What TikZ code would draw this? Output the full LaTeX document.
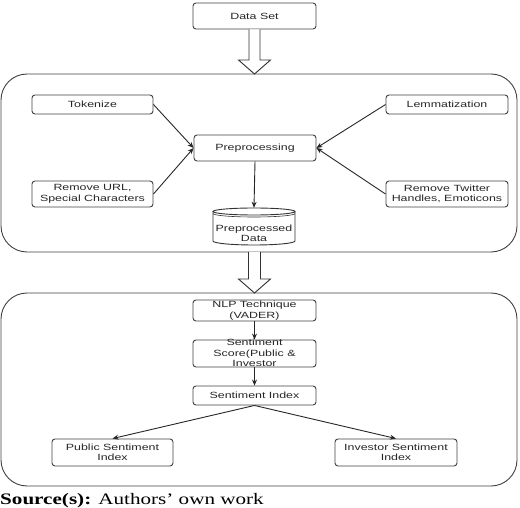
\documentclass[tikz,border=0pt]{standalone}
\usepackage{fontspec}
\setmainfont{Liberation Sans}
\newfontfamily\labfont[FakeStretch=1.38]{Liberation Sans}
\newfontfamily\srcfont[FakeStretch=1.32]{Liberation Serif}
\usetikzlibrary{arrows.meta,calc}
\colorlet{linec}{black!75}
\begin{document}
\begin{tikzpicture}[x=1pt,y=-1pt,
  box/.style={draw=linec, line width=0.9pt, rounded corners=3pt, inner sep=0pt, align=center,
    font=\labfont\fontsize{9}{10.5}\selectfont, text=black!85},
  lab/.style={inner sep=0pt, align=center, font=\labfont\fontsize{9}{10.5}\selectfont, text=black!85},
  frame/.style={draw=linec, line width=0.9pt, rounded corners=26pt},
  arr/.style={draw=black!85, line width=0.9pt, -{Stealth[length=6pt,width=5pt]}},
  hollow/.style={draw=black!80, line width=0.9pt, fill=white},
  cyl/.style={draw=black!80, line width=0.9pt},
]
\useasboundingbox (0,0) rectangle (520,508);

% frames
\draw[frame] (1,74) rectangle (517,252);
\draw[frame] (1,293) rectangle (517,486);

% top node
\node[box, minimum width=123pt, minimum height=26pt] (ds) at (254.5,16) {Data Set};

% first block
\node[box, minimum width=121pt, minimum height=19pt] (tok) at (92.5,104.5) {Tokenize};
\node[box, minimum width=121pt, minimum height=26pt] (url) at (92.5,194) {Remove URL,\\Special Characters};
\node[box, minimum width=122pt, minimum height=26pt] (pp) at (255,148) {Preprocessing};
\node[box, minimum width=122pt, minimum height=19pt] (lem) at (447,104.5) {Lemmatization};
\node[box, minimum width=122pt, minimum height=26pt] (tw) at (447,194) {Remove Twitter\\Handles, Emoticons};

% cylinder
\node[minimum width=82pt, minimum height=37pt, inner sep=0pt] (pd) at (254,226.5) {};
\filldraw[cyl, fill=white] (213,211.5) -- (213,241) arc[start angle=180,end angle=0,x radius=41,y radius=4] -- (295,211.5);
\draw[cyl] (254,211.5) ellipse[x radius=41,y radius=3.5];
\draw[cyl, line width=0.6pt] (213,213.5) arc[start angle=180,end angle=0,x radius=41,y radius=3.5];
\node[lab] (pdt) at (254,233.5) {Preprocessed\\Data};

% second block
\node[box, minimum width=123pt, minimum height=21pt] (nlp) at (254.5,310.5) {NLP Technique\\(VADER)};
\node[box, minimum width=123pt, minimum height=27pt] (ss) at (254.5,353.5) {};
\node[lab] (sst) at (254.5,353) {Sentiment\\Score(Public \&\\Investor};
\node[box, minimum width=123pt, minimum height=19pt] (si) at (254.5,395.5) {Sentiment Index};
\node[box, minimum width=121pt, minimum height=27pt] (pub) at (112.5,452.5) {Public Sentiment\\Index};
\node[box, minimum width=122pt, minimum height=27pt] (inv) at (396,452.5) {Investor Sentiment\\Index};

% hollow arrows
\coordinate (f1t) at (254.5,74);
\draw[hollow] ($(ds.south)+(-5.5,0)$) -- ($(f1t)+(-5.5,-14)$) -- ($(f1t)+(-16,-14)$) -- (f1t)
  -- ($(f1t)+(16,-14)$) -- ($(f1t)+(5.5,-14)$) -- ($(ds.south)+(5.5,0)$);
\coordinate (f1b) at (254.5,252);
\coordinate (f2t) at (254.5,293);
\draw[hollow] ($(f1b)+(-6,0)$) -- ($(f2t)+(-6,-14)$) -- ($(f2t)+(-16,-14)$) -- (f2t)
  -- ($(f2t)+(16,-14)$) -- ($(f2t)+(6,-14)$) -- ($(f1b)+(6,0)$);

% connectors
\draw[arr] (tok.east) -- (pp.west);
\draw[arr] (url.east) -- (pp.west);
\draw[arr] (lem.west) -- (pp.east);
\draw[arr] (tw.west) -- (pp.east);
\draw[arr] (pp.south) -- (pd.north);
\draw[arr] (nlp.south) -- (ss.north);
\draw[arr] (ss.south) -- (si.north);
\draw[arr] (si.south) -- (pub.north);
\draw[arr] (si.south) -- (inv.north);

% source
\node[anchor=base west, inner sep=0pt, font=\srcfont\fontsize{16}{18}\selectfont] (src) at (0,504)
  {\textbf{Source(s):} Authors’ own work};
\end{tikzpicture}
\end{document}
